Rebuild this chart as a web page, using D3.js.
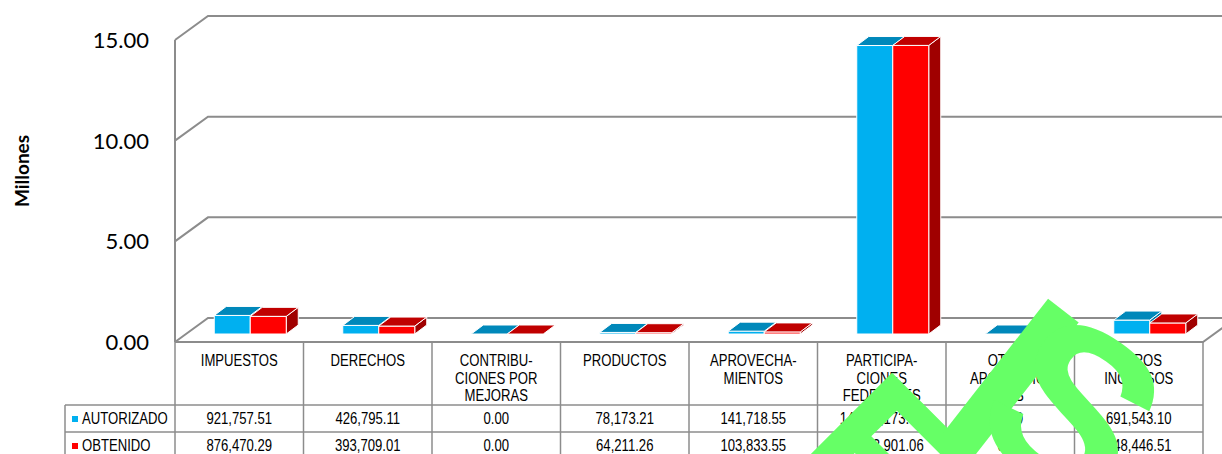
<!DOCTYPE html>
<html>
<head>
<meta charset="utf-8">
<script src="https://cdn.jsdelivr.net/npm/d3@7"></script>
<style>
  body { margin: 0; background: #fff; }
  svg { display: block; }
</style>
</head>
<body>
<div id="chart"></div>
<script>
var categories = ["IMPUESTOS", "DERECHOS", "CONTRIBUCIONES POR MEJORAS", "PRODUCTOS", "APROVECHAMIENTOS", "PARTICIPACIONES FEDERALES", "OTRAS APORTACIONES", "OTROS INGRESOS"];
var categoryLines = [["IMPUESTOS"], ["DERECHOS"], ["CONTRIBU-", "CIONES POR", "MEJORAS"], ["PRODUCTOS"], ["APROVECHA-", "MIENTOS"], ["PARTICIPA-", "CIONES", "FEDERALES"], ["OTRAS", "APORTACIO-", "NES"], ["OTROS", "INGRESOS"]];
var seriesNames = ["AUTORIZADO", "OBTENIDO"];
var autorizado = [921757.51, 426795.11, 0.00, 78173.21, 141718.55, 14328173.08, 0.00, 691543.10];
var obtenido = [876470.29, 393709.01, 0.00, 64211.26, 103833.55, 14333901.06, 0.00, 548446.51];
var yTicks = [0, 5, 10, 15];

var w = 1222, h = 454;
var svg = d3.select("#chart").append("svg").attr("width", w).attr("height", h);

// front plane of the plot
var plotLeft = 175, plotRight = 1203, plotTop = 40, plotBottom = 342;
var wallDx = 33, wallDy = -24;      // floor / side wall depth
var barDx = 11, barDy = -8;         // bar front inside the depth
var barDepthX = 12, barDepthY = -9; // bar thickness

var x = d3.scaleBand().domain(categories).range([plotLeft, plotRight]);
var y = d3.scaleLinear().domain([0, 15]).range([plotBottom, plotTop]);
var xs = d3.scaleBand().domain(seriesNames).range([-36, 36]);

var frontCol = {AUTORIZADO: "#00B0F0", OBTENIDO: "#FF0000"};
var topCol = {AUTORIZADO: "#0088BA", OBTENIDO: "#C00000"};
var sideCol = {AUTORIZADO: "#0078A8", OBTENIDO: "#A00000"};
var gridCol = "#8C8C8C";

// gridlines: side wall diagonal then back wall
var grid = svg.append("g").attr("fill", "none").attr("stroke", gridCol).attr("stroke-width", 2);
yTicks.forEach(function(t) {
  var yy = y(t);
  grid.append("path")
    .attr("d", "M" + plotLeft + "," + yy + "L" + (plotLeft + wallDx) + "," + (yy + wallDy) + "L" + (plotRight + wallDx + 20) + "," + (yy + wallDy));
});
grid.append("path")
  .attr("d", "M" + plotLeft + "," + plotBottom + "L" + plotRight + "," + plotBottom + "L" + (plotRight + wallDx) + "," + (plotBottom + wallDy));
grid.append("line").attr("x1", plotLeft).attr("x2", plotLeft).attr("y1", y(15)).attr("y2", plotBottom);

// bars
var bars = svg.append("g");
categories.forEach(function(c, i) {
  var vals = {AUTORIZADO: autorizado[i] / 1e6, OBTENIDO: obtenido[i] / 1e6};
  seriesNames.forEach(function(s) {
    var x0 = x(c) + x.bandwidth() / 2 + xs(s) + barDx;
    var x1 = x0 + xs.bandwidth();
    var yb = y(0) + barDy, yt = y(vals[s]) + barDy;
    var g = bars.append("g").attr("stroke", "#fff").attr("stroke-width", 1).attr("stroke-linejoin", "round");
    g.append("path").attr("fill", sideCol[s])
      .attr("d", "M" + x1 + "," + yb + "L" + (x1 + barDepthX) + "," + (yb + barDepthY) + "L" + (x1 + barDepthX) + "," + (yt + barDepthY) + "L" + x1 + "," + yt + "Z");
    if (yb - yt > 0.5) {
      g.append("rect").attr("x", x0).attr("y", yt).attr("width", x1 - x0).attr("height", yb - yt).attr("fill", frontCol[s]);
    }
    g.append("path").attr("fill", topCol[s])
      .attr("d", "M" + x0 + "," + yt + "L" + (x0 + barDepthX) + "," + (yt + barDepthY) + "L" + (x1 + barDepthX) + "," + (yt + barDepthY) + "L" + x1 + "," + yt + "Z");
  });
});

// y axis labels
svg.append("g").selectAll("text").data(yTicks).enter().append("text")
  .attr("x", 149).attr("y", function(d) { return y(d) + 8; })
  .attr("text-anchor", "end")
  .attr("font-family", "Lato, 'Open Sans', sans-serif").attr("font-size", 22).attr("fill", "#000")
  .text(function(d) { return d3.format(".2f")(d); });

svg.append("text")
  .attr("transform", "translate(29,171) rotate(-90)")
  .attr("text-anchor", "middle")
  .attr("font-family", "Lato, 'Open Sans', sans-serif").attr("font-weight", "bold").attr("font-size", 19)
  .text("Millones");

// data table (narrow text: Liberation Sans squeezed)
var tbl = svg.append("g").attr("font-family", "'Liberation Sans', Arial, sans-serif").attr("font-size", 16).attr("fill", "#000");
function narrow(px, py, anchor) {
  return tbl.append("text").attr("transform", "translate(" + px + "," + py + ") scale(0.82,1)").attr("text-anchor", anchor);
}
var lines = tbl.append("g").attr("stroke", gridCol).attr("stroke-width", 1.5);
categories.concat(["end"]).forEach(function(c, i) {
  var xx = i < categories.length ? x(c) : plotRight;
  lines.append("line").attr("x1", xx).attr("x2", xx).attr("y1", plotBottom).attr("y2", h);
});
[405, 432].forEach(function(yy) {
  lines.append("line").attr("x1", 65).attr("x2", plotRight).attr("y1", yy).attr("y2", yy);
});
lines.append("line").attr("x1", 65).attr("x2", 65).attr("y1", 405).attr("y2", h);

categories.forEach(function(c, i) {
  var cx = x(c) + x.bandwidth() / 2;
  var t = narrow(cx, 366, "middle");
  categoryLines[i].forEach(function(line, k) {
    t.append("tspan").attr("x", 0).attr("y", k * 17.6).text(line);
  });
  narrow(cx, 424, "middle").text(d3.format(",.2f")(autorizado[i]));
  narrow(cx, 451, "middle").text(d3.format(",.2f")(obtenido[i]));
});
seriesNames.forEach(function(s, k) {
  var yy = 424 + k * 27;
  tbl.append("rect").attr("x", 72).attr("y", yy - 8).attr("width", 6).attr("height", 6).attr("fill", frontCol[s]);
  narrow(82, yy, "start").text(s);
});

// watermark
var wm = svg.append("g").attr("fill", "#66FF66").attr("font-family", "'Liberation Sans', Arial, sans-serif").attr("font-weight", "bold");
wm.append("text").attr("transform", "translate(780,465) rotate(45)").attr("font-size", 210).text("E");
wm.append("text").attr("transform", "translate(949,457) rotate(38)").attr("font-size", 270).attr("text-anchor", "middle").text("I");
wm.append("text").attr("transform", "translate(965,430) rotate(35)").attr("font-size", 230).text("S");
</script>
</body>
</html>
